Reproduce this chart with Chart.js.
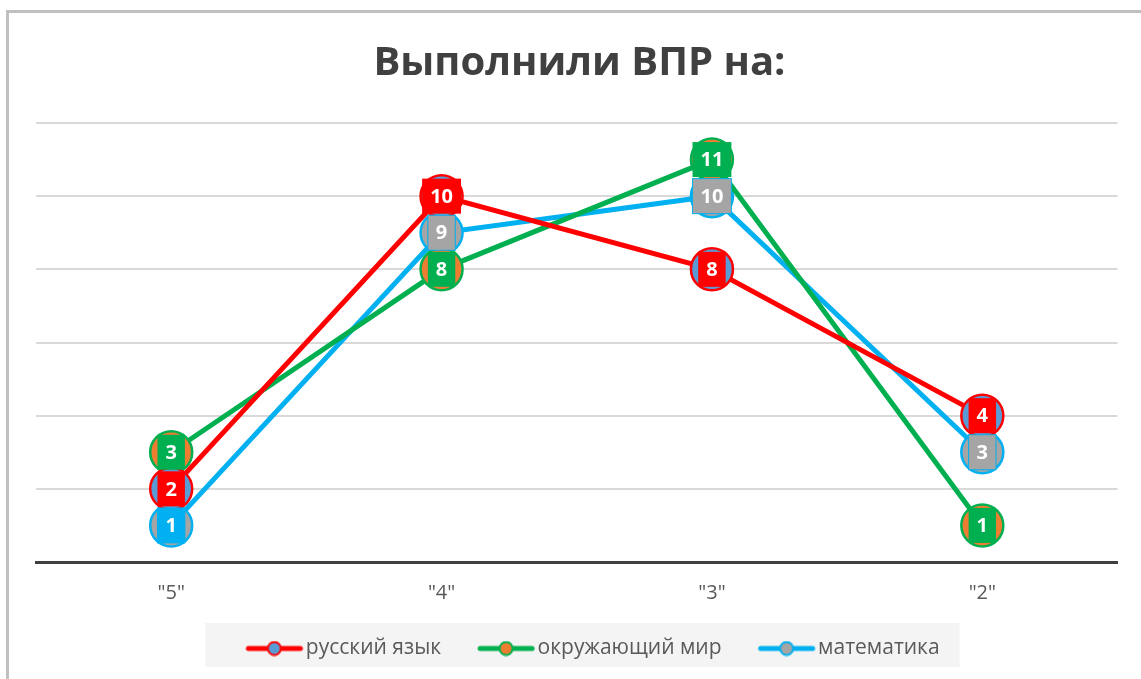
<!DOCTYPE html>
<html>
<head>
<meta charset="utf-8">
<script src="https://cdn.jsdelivr.net/npm/chart.js@4"></script>
<style>
    body { margin: 0; background: #fff; overflow: hidden; }
    #wrap { position: relative; width: 1141px; height: 679px; overflow: hidden; }
    #frame { position: absolute; left: 6px; top: 10px; width: 1200px; height: 800px; border: 3px solid #c0c0c0; }
    canvas { position: absolute; left: 0; top: 0; }
</style>
</head>
<body>
<div id="wrap">
    <div id="frame"></div>
    <canvas id="chart" width="1141" height="679"></canvas>
</div>
<script>
// Categories and series values
const categories = ['"5"', '"4"', '"3"', '"2"'];
const seriesNames = ['русский язык', 'окружающий мир', 'математика'];
const russianValues = [2, 10, 8, 4];
const worldValues = [3, 8, 11, 1];
const mathValues = [1, 9, 10, 3];

const lineColors = ['#FF0000', '#00B050', '#00B0F0'];
const markerFills = ['#5B9BD5', '#ED7D31', '#A5A5A5'];
// label box colour for each point of each series
const labelFills = [
    ['#FF0000', '#FF0000', '#FF0000', '#FF0000'],
    ['#00B050', '#00B050', '#00B050', '#00B050'],
    ['#00B0F0', '#A5A5A5', '#A5A5A5', '#A5A5A5']
];

const fontName = '"Open Sans", "Noto Sans", sans-serif';

// Legend icon: transparent space on the left, then a short line with a marker
function legendIcon(i) {
    const c = document.createElement('canvas');
    c.width = 94;
    c.height = 16;
    const g = c.getContext('2d');
    g.strokeStyle = lineColors[i];
    g.lineWidth = 5;
    g.lineCap = 'round';
    g.beginPath();
    g.moveTo(38, 8);
    g.lineTo(90, 8);
    g.stroke();
    g.beginPath();
    g.arc(64, 8, 6.5, 0, Math.PI * 2);
    g.fillStyle = markerFills[i];
    g.fill();
    g.lineWidth = 2;
    g.stroke();
    return c;
}

// Grey background behind the legend
const legendBackground = {
    id: 'legendBackground',
    beforeDraw(chart) {
        const legend = chart.legend;
        if (!legend || !legend.legendHitBoxes.length) return;
        const boxes = legend.legendHitBoxes;
        const left = Math.min(...boxes.map(b => b.left)) - 14;
        const right = Math.max(...boxes.map(b => b.left + b.width)) + 20;
        const ctx = chart.ctx;
        ctx.save();
        ctx.fillStyle = '#f4f4f4';
        ctx.fillRect(left, 623, right - left, 44);
        ctx.restore();
    }
};

// Data labels in coloured boxes
const valueLabels = {
    id: 'valueLabels',
    afterDatasetsDraw(chart) {
        const ctx = chart.ctx;
        ctx.save();
        ctx.font = 'bold 20px ' + fontName;
        ctx.textAlign = 'center';
        ctx.textBaseline = 'middle';
        chart.data.datasets.forEach((ds, i) => {
            const meta = chart.getDatasetMeta(i);
            meta.data.forEach((pt, j) => {
                const text = String(ds.data[j]);
                const w = ctx.measureText(text).width + 16;
                const h = 35;
                ctx.fillStyle = labelFills[i][j];
                ctx.fillRect(pt.x - w / 2, pt.y - h / 2, w, h);
                if (i === 2) {
                    ctx.strokeStyle = lineColors[2];
                    ctx.lineWidth = 1;
                    ctx.strokeRect(pt.x - w / 2, pt.y - h / 2, w, h);
                }
                ctx.fillStyle = '#ffffff';
                ctx.fillText(text, pt.x, pt.y + 1);
            });
        });
        ctx.restore();
    }
};

const allValues = [russianValues, worldValues, mathValues];

const datasets = allValues.map((vals, i) => ({
    label: seriesNames[i],
    data: vals,
    borderColor: lineColors[i],
    borderWidth: 5,
    pointRadius: 21,
    pointHoverRadius: 21,
    pointBorderWidth: 2.5,
    pointBorderColor: lineColors[i],
    pointBackgroundColor: markerFills[i],
    tension: 0,
    clip: false
}));

const ctx = document.getElementById('chart').getContext('2d');
const myChart = new Chart(ctx, {
    type: 'line',
    data: {
        labels: categories,
        datasets: datasets
    },
    plugins: [legendBackground, valueLabels],
    options: {
        responsive: false,
        animation: false,
        events: [],
        layout: {
            padding: { left: 36, right: 18, top: 0, bottom: 10 }
        },
        plugins: {
            title: {
                display: true,
                text: 'Выполнили ВПР на:',
                color: '#404040',
                font: { family: fontName, size: 40, weight: 'bold', lineHeight: 1.2 },
                padding: { top: 40, bottom: 35 }
            },
            legend: {
                position: 'bottom',
                labels: {
                    usePointStyle: true,
                    pointStyleWidth: 76,
                    color: '#595959',
                    font: { family: fontName, size: 21 },
                    padding: 10,
                    generateLabels(chart) {
                        return chart.data.datasets.map((ds, i) => ({
                            text: ds.label,
                            pointStyle: legendIcon(i),
                            fillStyle: markerFills[i],
                            strokeStyle: lineColors[i],
                            fontColor: '#595959',
                            datasetIndex: i,
                            hidden: false
                        }));
                    }
                }
            },
            tooltip: { enabled: false }
        },
        scales: {
            x: {
                offset: true,
                grid: { display: false },
                border: { display: true, color: '#404040', width: 3 },
                ticks: {
                    color: '#595959',
                    font: { family: fontName, size: 20 },
                    padding: 11
                },
                // extra room between the category labels and the legend
                afterFit(scale) {
                    scale.height += 12;
                }
            },
            y: {
                min: 0,
                max: 12,
                ticks: { display: false, stepSize: 2 },
                border: { display: false },
                grid: {
                    drawTicks: false,
                    lineWidth: 2,
                    color: c => (c.tick && c.tick.value === 0 ? 'rgba(0,0,0,0)' : '#d9d9d9')
                }
            }
        }
    }
});
</script>
</body>
</html>
